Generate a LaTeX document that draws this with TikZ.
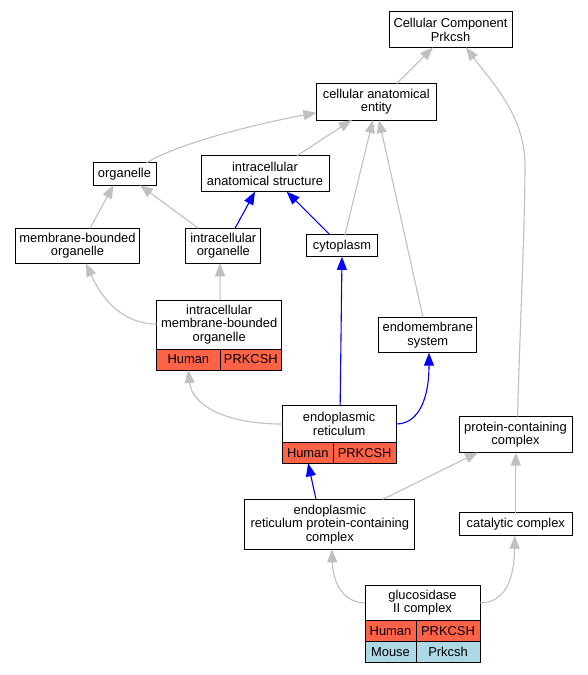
\documentclass[tikz,border=0pt]{standalone}
\usepackage{fontspec}
\setmainfont{Liberation Sans}
\usetikzlibrary{arrows.meta,calc}
\definecolor{human}{RGB}{255,99,71}
\definecolor{mouse}{RGB}{173,216,230}
\definecolor{edgegray}{RGB}{192,192,192}
\begin{document}
\begin{tikzpicture}[x=1pt,y=-1pt,
  txt/.style={font=\fontsize{12.9}{13.6}\selectfont},
  box/.style={txt, draw=black, line width=1pt, fill=white, inner sep=0pt, outer sep=0pt, align=center},
  lbl/.style={txt, inner sep=0pt, align=center},
  cell/.style={txt, draw=black, line width=1pt, inner sep=0pt, outer sep=0pt},
  gedge/.style={draw=edgegray, line width=1.1pt, -{Triangle[length=13pt,width=10pt]}},
  bedge/.style={draw=blue, line width=1.1pt, -{Triangle[length=13pt,width=10pt]}}]
\useasboundingbox (0,0) rectangle (588,675);
\fill[white] (0,0) rectangle (588,675);

\node[box, minimum width=123pt, minimum height=35.5pt] (cc) at (450.5,29.7) {Cellular Component\\Prkcsh};
\node[box, minimum width=119.5pt, minimum height=36.5pt] (cae) at (376.25,101.75) {cellular anatomical\\entity};
\node[box, minimum width=63pt, minimum height=22.5pt] (org) at (124.5,174) {organelle};
\node[box, minimum width=128pt, minimum height=36pt] (ias) at (265,173.7) {intracellular\\anatomical structure};
\node[box, minimum width=123.6pt, minimum height=35pt] (mbo) at (77.5,245.8) {membrane-bounded\\organelle};
\node[box, minimum width=75.3pt, minimum height=35pt] (io) at (223.3,245.8) {intracellular\\organelle};
\node[box, minimum width=70.6pt, minimum height=22pt] (cyto) at (342,245.8) {cytoplasm};
\node[box, minimum width=98.3pt, minimum height=35.4pt] (ems) at (427.8,335) {endomembrane\\system};
\node[box, minimum width=113pt, minimum height=36pt] (pcc) at (515.5,434.5) {protein-containing\\complex};
\node[box, minimum width=170.3pt, minimum height=50pt] (erpcc) at (329.8,524.3) {endoplasmic\\reticulum protein-containing\\complex};
\node[box, minimum width=113pt, minimum height=23pt] (cat) at (515.8,524.2) {catalytic complex};

% intracellular membrane-bounded organelle
\node[box, minimum width=125pt, minimum height=70pt] (imbo) at (219.2,335) {};
\node[lbl] (imboT) at (219.2,324.5) {intracellular\\membrane-bounded\\organelle};
\node[cell, fill=human, minimum width=63.3pt, minimum height=21pt] (imboH) at (188.35,359.5) {Human};
\node[cell, fill=human, minimum width=61.7pt, minimum height=21pt] (imboP) at (250.85,359.5) {PRKCSH};

% endoplasmic reticulum
\node[box, minimum width=113.7pt, minimum height=57.6pt] (er) at (339.15,434.5) {};
\node[lbl] (erT) at (339.15,424) {endoplasmic\\reticulum};
\node[cell, fill=human, minimum width=51pt, minimum height=21pt] (erH) at (307.8,452.8) {Human};
\node[cell, fill=human, minimum width=62.7pt, minimum height=21pt] (erP) at (364.65,452.8) {PRKCSH};

% glucosidase II complex
\node[box, minimum width=115pt, minimum height=77.3pt] (glu) at (422.5,623.65) {};
\node[lbl] (gluT) at (422.5,602.85) {glucosidase\\II complex};
\node[cell, fill=human, minimum width=51pt, minimum height=20.8pt] (gluH) at (390.5,631.1) {Human};
\node[cell, fill=human, minimum width=64pt, minimum height=20.8pt] (gluP) at (448,631.1) {PRKCSH};
\node[cell, fill=mouse, minimum width=51pt, minimum height=20.8pt] (gluM) at (390.5,651.9) {Mouse};
\node[cell, fill=mouse, minimum width=64pt, minimum height=20.8pt] (gluQ) at (448,651.9) {Prkcsh};

% edges
\draw[gedge] ([xshift=20.5pt]cae.north) -- ([xshift=-17.5pt]cc.south);
\draw[gedge] ([xshift=2pt]pcc.north) .. controls (521,300) and (525,220) .. (525,165) .. controls (525,115) and (490,80) .. ([xshift=15.5pt]cc.south);
\draw[gedge] ([xshift=22pt]org.north) .. controls (175,145) and (250,125) .. ([yshift=-11pt]cae.west);
\draw[gedge] ([xshift=32pt]ias.north) -- ([xshift=-24.5pt]cae.south);
\draw[gedge] ([xshift=3pt]cyto.north) -- ([xshift=-3.3pt]cae.south);
\draw[gedge] ([xshift=-4.8pt]ems.north) -- ([xshift=2.7pt]cae.south);
\draw[gedge] ([xshift=12.5pt]mbo.north) -- ([xshift=-11pt]org.south);
\draw[gedge] ([xshift=-25pt]io.north) -- ([xshift=15.5pt]org.south);
\draw[bedge] ([xshift=11.7pt]io.north) -- ([xshift=-10pt]ias.south);
\draw[bedge] ([xshift=-12pt]cyto.north) -- ([xshift=21.7pt]ias.south);
\draw[gedge] ([yshift=11pt]imbo.west) .. controls (120,324) and (100,295) .. ([xshift=8.5pt]mbo.south);
\draw[gedge] ([xshift=1pt]imbo.north) -- ([xshift=-3.3pt]io.south);
\draw[gedge] ([yshift=10.5pt]er.west) .. controls (225,424) and (192,405) .. ([xshift=-31pt]imbo.south);
\draw[bedge] ([xshift=1pt]er.north) -- (cyto.south);
\draw[bedge] ([yshift=10.5pt]er.east) .. controls (418,424) and (429,400) .. ([xshift=1.2pt]ems.south);
\draw[bedge] ([xshift=-13.8pt]erpcc.north) -- ([xshift=-31pt]er.south);
\draw[gedge] ([xshift=53pt]erpcc.north) -- ([xshift=-37.5pt]pcc.south);
\draw[gedge] (cat.north) -- ([xshift=0.3pt]pcc.south);
\draw[gedge] ([yshift=20.8pt]glu.west) .. controls (345,603) and (333,585) .. ([xshift=2pt]erpcc.south);
\draw[gedge] ([yshift=20.8pt]glu.east) .. controls (502,603) and (514,585) .. ([xshift=-1pt]cat.south);
\end{tikzpicture}
\end{document}
